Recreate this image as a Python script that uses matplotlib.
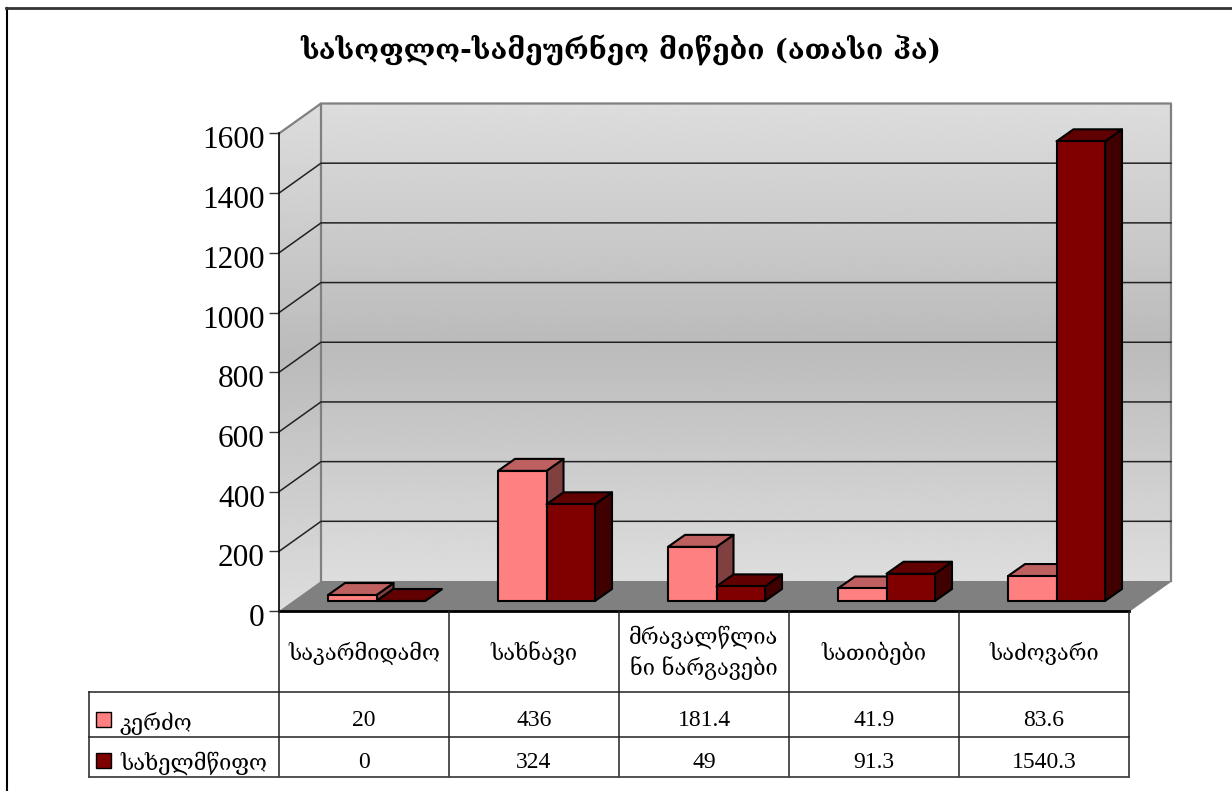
import numpy as np
import matplotlib
matplotlib.use('Agg')
import matplotlib.pyplot as plt
from matplotlib.patches import Polygon, Rectangle
from matplotlib.transforms import ScaledTranslation

title = 'სასოფლო-სამეურნეო მიწები (ათასი ჰა)'
categories = ['საკარმიდამო', 'სახნავი', 'მრავალწლია\nნი ნარგავები', 'სათიბები', 'საძოვარი']
series_names = ['კერძო', 'სახელმწიფო']
kerdzo = [20, 436, 181.4, 41.9, 83.6]
saxelmwifo = [0, 324, 49, 91.3, 1540.3]
kerdzo_labels = ['20', '436', '181.4', '41.9', '83.6']
saxelmwifo_labels = ['0', '324', '49', '91.3', '1540.3']
yticks = [0, 200, 400, 600, 800, 1000, 1200, 1400, 1600]

W, H = 1232, 791
num_font = ['Liberation Serif', 'DejaVu Serif']
geo_font = ['DejaVu Serif', 'DejaVu Sans']

fig = plt.figure(figsize=(W / 100, H / 100), dpi=100, facecolor='white')

# chart axes: x in categories, y in values
ax_h = 477.5
ax = fig.add_axes([279 / W, 1 - 611 / H, 850 / W, ax_h / H])
ax.patch.set_visible(False)
n = len(categories)
ppv = ax_h / 1600
wall_dx = 42 / 170
wall_dy = 30 / ppv
top = 1600 + wall_dy


def gradient_wall(pts, y0, y1):
    ys = np.linspace(0, 2, 200)
    img = np.interp(ys, [0, 1, 2], [0.867, 0.733, 0.867]).reshape(-1, 1)
    im = ax.imshow(img, extent=[0, n + wall_dx, y0, y1], origin='upper', cmap='gray',
                   vmin=0, vmax=1, aspect='auto', zorder=1, interpolation='bilinear')
    poly = Polygon(pts, closed=True, transform=ax.transData, facecolor='none', edgecolor='none',
                   clip_on=False)
    ax.add_patch(poly)
    im.set_clip_box(fig.bbox)
    im.set_clip_path(poly)


gradient_wall([(wall_dx, wall_dy), (n + wall_dx, wall_dy), (n + wall_dx, top), (wall_dx, top)], top, wall_dy)
gradient_wall([(0, 0), (wall_dx, wall_dy), (wall_dx, top), (0, 1600)], top, 0)
ax.set_xlim(0, n)
ax.set_ylim(0, 1600)

# floor
ax.add_patch(Polygon([(0, 0), (n, 0), (n + wall_dx, wall_dy), (wall_dx, wall_dy)], closed=True,
                     facecolor='#808080', edgecolor='none', zorder=2, clip_on=False))
# wall outlines
ax.plot([0, wall_dx, n + wall_dx, n + wall_dx], [1600, top, top, wall_dy], color='#808080', lw=1.6,
        zorder=2, clip_on=False)
ax.plot([wall_dx, wall_dx], [wall_dy, top], color='#808080', lw=1.6, zorder=2, clip_on=False)
ax.plot([n, n + wall_dx], [0, wall_dy], color='#808080', lw=1.2, zorder=2, clip_on=False)
# grid lines
for v in yticks[1:-1]:
    ax.plot([0, wall_dx, n + wall_dx], [v, v + wall_dy, v + wall_dy], color='#222222', lw=1.1,
            zorder=2, clip_on=False)


def bar3d(x, w, v, front, topc, side):
    fx = 14 / 170
    fy = 10 / ppv
    dx = 17 / 170
    dy = 12 / ppv
    x = x + fx
    edge = dict(edgecolor='black', lw=1.5, zorder=3, clip_on=False, joinstyle='round')
    ax.add_patch(Polygon([(x + w, fy), (x + w + dx, fy + dy), (x + w + dx, fy + dy + v), (x + w, fy + v)],
                         closed=True, facecolor=side, **edge))
    ax.add_patch(Polygon([(x, fy + v), (x + w, fy + v), (x + w + dx, fy + dy + v), (x + dx, fy + dy + v)],
                         closed=True, facecolor=topc, **edge))
    ax.add_patch(Rectangle((x, fy), w, v, facecolor=front, **edge))


bar_w = 48.5 / 170
gap = 35 / 170
for i in range(n):
    bar3d(i + gap, bar_w, kerdzo[i], '#FF8080', '#BF6060', '#804040')
    bar3d(i + gap + bar_w, bar_w, saxelmwifo[i], '#800000', '#600000', '#400000')

ax.set_yticks(yticks)
ax.set_xticks([])
for s in ['top', 'right', 'bottom']:
    ax.spines[s].set_visible(False)
ax.spines['left'].set_linewidth(1.2)
ax.tick_params(axis='y', length=7.2, width=1, color='#333333', pad=3, labelsize=22.5)
shift = ScaledTranslation(0, -4 / 100, fig.dpi_scale_trans)
for lab in ax.get_yticklabels():
    lab.set_family(num_font)
    lab.set_transform(lab.get_transform() + shift)

# overlay in pixels: frame, title, data table
ov = fig.add_axes([0, 0, 1, 1])
ov.set_xlim(0, W)
ov.set_ylim(H, 0)
ov.axis('off')
ov.patch.set_visible(False)
ov.plot([6.5, 6.5], [H, 7.5], color='black', lw=1.5)
ov.plot([6, W], [7.5, 7.5], color='#333333', lw=2)
ov.text(621, 50, title, family=geo_font, fontsize=20.3, fontweight='bold', ha='center', va='center')

cols = [279 + 170 * i for i in range(n + 1)]
ov.plot([279, 1129], [611, 611], color='black', lw=2)
for i, c in enumerate(cols):
    ov.plot([c, c], [611, 777], color='#222222', lw=1.1)
ov.plot([89, 89], [692, 777], color='#222222', lw=1.1)
ov.plot([89, 1129], [692, 692], color='#222222', lw=1.1)
ov.plot([89, 1129], [736.5, 736.5], color='#222222', lw=1.1)
ov.plot([89, 1129], [777, 777], color='#444444', lw=1.3)

for i, c in enumerate(categories):
    ov.text(cols[i] + 85, 653, c, family=geo_font, fontsize=15.7, ha='center', va='center', linespacing=1.35)
    ov.text(cols[i] + 85, 721, kerdzo_labels[i], family=num_font, fontsize=17, ha='center', va='center')
    ov.text(cols[i] + 85, 762, saxelmwifo_labels[i], family=num_font, fontsize=17, ha='center', va='center')

ov.add_patch(Rectangle((96, 712), 15, 15, facecolor='#FF8080', edgecolor='black', lw=1))
ov.add_patch(Rectangle((96, 753), 15, 15, facecolor='#800000', edgecolor='black', lw=1))
ov.text(120, 723, series_names[0], family=geo_font, fontsize=15.7, ha='left', va='center')
ov.text(120, 763, series_names[1], family=geo_font, fontsize=15.7, ha='left', va='center')

fig.savefig('out.png', dpi=100)
